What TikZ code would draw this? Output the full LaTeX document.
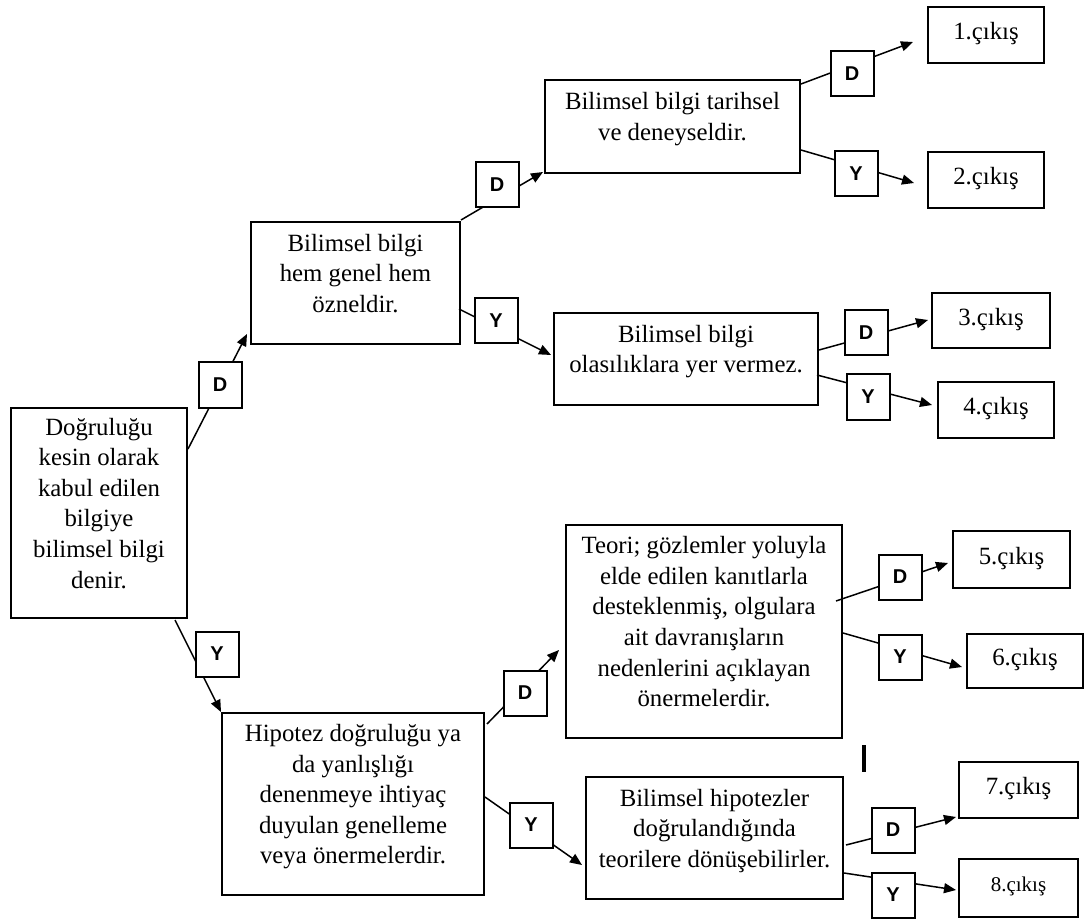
\documentclass[tikz,border=0pt]{standalone}
\usepackage{fontspec}
\setmainfont{Liberation Serif}
\setsansfont{Liberation Sans}
\usepackage{tikz}
\usetikzlibrary{calc,arrows.meta}

\tikzset{
  stmt/.style={draw,line width=1pt,anchor=north west,align=center,inner sep=0pt,
    font=\fontsize{12.4}{15.3}\selectfont,
    execute at end node={\rule[-10pt]{0pt}{10pt}}},
  exit/.style={draw,line width=1pt,anchor=north west,inner sep=0pt,
    font=\fontsize{12.4}{15.3}\selectfont,
    execute at end node={\rule[-4pt]{0pt}{4pt}}},
  tag/.style={draw,line width=1pt,fill=white,inner sep=0pt,
    minimum width=21.5pt,minimum height=22.5pt,
    font=\sffamily\bfseries\fontsize{10}{11}\selectfont},
  link/.style={line width=0.75pt,-{Triangle[length=6pt,width=5pt]}}
}

\begin{document}
\begin{tikzpicture}[x=0.5pt,y=-0.5pt]
        \useasboundingbox (0,0) rectangle (1089,920);
        % statements
        \node[stmt,minimum width=88pt,minimum height=105pt] (root) at (10,407)
              {Doğruluğu\\kesin olarak\\kabul edilen\\bilgiye\\bilimsel bilgi\\denir.};
        \node[stmt,minimum width=104.5pt,minimum height=61pt] (genel) at (250,221)
              {Bilimsel bilgi\\hem genel hem\\özneldir.};
        \node[stmt,minimum width=127.5pt,minimum height=46.5pt] (tarih) at (544,79)
              {Bilimsel bilgi tarihsel\\ve deneyseldir.};
        \node[stmt,minimum width=132pt,minimum height=46pt] (olasi) at (553,312)
              {Bilimsel bilgi\\olasılıklara yer vermez.};
        \node[stmt,minimum width=138pt,minimum height=106.5pt] (teori) at (565,524)
              {Teori; gözlemler yoluyla\\elde edilen kanıtlarla\\desteklenmiş, olgulara\\ait davranışların\\nedenlerini açıklayan\\önermelerdir.};
        \node[stmt,minimum width=131pt,minimum height=91pt] (hipo) at (221,712)
              {Hipotez doğruluğu ya\\da yanlışlığı\\denenmeye ihtiyaç\\duyulan genelleme\\veya önermelerdir.};
        \node[stmt,minimum width=128.5pt,minimum height=61pt] (donus) at (585,776)
              {Bilimsel hipotezler\\doğrulandığında\\teorilere dönüşebilirler.};
        % exits
        \node[exit,minimum width=58pt,minimum height=28pt] (cikis1) at (927,6) {1.çıkış};
        \node[exit,minimum width=58pt,minimum height=28pt] (cikis2) at (927,151) {2.çıkış};
        \node[exit,minimum width=59pt,minimum height=27.5pt] (cikis3) at (931,292) {3.çıkış};
        \node[exit,minimum width=58pt,minimum height=28pt] (cikis4) at (937,381) {4.çıkış};
        \node[exit,minimum width=58.5pt,minimum height=28.5pt] (cikis5) at (952,530) {5.çıkış};
        \node[exit,minimum width=58pt,minimum height=27pt] (cikis6) at (966,633) {6.çıkış};
        \node[exit,minimum width=59.5pt,minimum height=28pt] (cikis7) at (958,761) {7.çıkış};
        \node[exit,minimum width=59.5pt,minimum height=29pt,font=\fontsize{10.5}{12}\selectfont] (cikis8) at (958,858) {8.çıkış};
        % connectors
        \draw[link] ($(root.north east)+(0,42)$) -- ($(genel.south west)+(-3,-11)$);
        \draw[link] ($(root.south east)+(-13,1)$) -- ($(hipo.north west)+(0,0)$);
        \draw[link] ($(genel.north east)+(0,-1)$) -- ($(tarih.south west)+(-1,-2)$);
        \draw[link] ($(genel.north east)+(-2,88)$) -- ($(olasi.north west)+(-2,43)$);
        \draw[link] ($(tarih.north east)+(0,5)$) -- ($(cikis1.north west)+(-14,36)$);
        \draw[link] ($(tarih.north east)+(0,71)$) -- ($(cikis2.north west)+(-13,32)$);
        \draw[link] ($(olasi.north east)+(0,38)$) -- ($(cikis3.north west)+(-3,28)$);
        \draw[link] ($(olasi.north east)+(-2,63)$) -- ($(cikis4.north west)+(-5,24)$);
        \draw[link] ($(hipo.north east)+(2,12)$) -- ($(teori.north west)+(-6,126)$);
        \draw[link] ($(hipo.north east)+(0,85)$) -- ($(donus.north west)+(-3,89)$);
        \draw[link] ($(teori.north east)+(-7,77)$) -- ($(cikis5.north west)+(-4,33)$);
        \draw[link] ($(teori.north east)+(0,109)$) -- ($(cikis6.north west)+(-4,34)$);
        \draw[link] ($(donus.north east)+(2,69)$) -- ($(cikis7.north west)+(-2,56)$);
        \draw[link] ($(donus.north east)+(0,97)$) -- ($(cikis8.north west)+(-2,32)$);
        % D / Y tags
        \node[tag] (d1) at (220,385) {D};
        \node[tag] (y1) at (217,654) {Y};
        \node[tag] (d2) at (497,185) {D};
        \node[tag] (y2) at (496,321) {Y};
        \node[tag] (d3) at (852,74) {D};
        \node[tag] (y3) at (856,174) {Y};
        \node[tag] (d4) at (866,333) {D};
        \node[tag] (y4) at (868,397) {Y};
        \node[tag] (d5) at (525,693) {D};
        \node[tag] (y5) at (531,825) {Y};
        \node[tag] (d6) at (900,577) {D};
        \node[tag] (y6) at (900,657) {Y};
        \node[tag] (d7) at (893,830) {D};
        \node[tag] (y7) at (893,895) {Y};
        % stray mark
        \draw[line width=2pt] (864,745) -- (864,772);
      \end{tikzpicture}
\end{document}
